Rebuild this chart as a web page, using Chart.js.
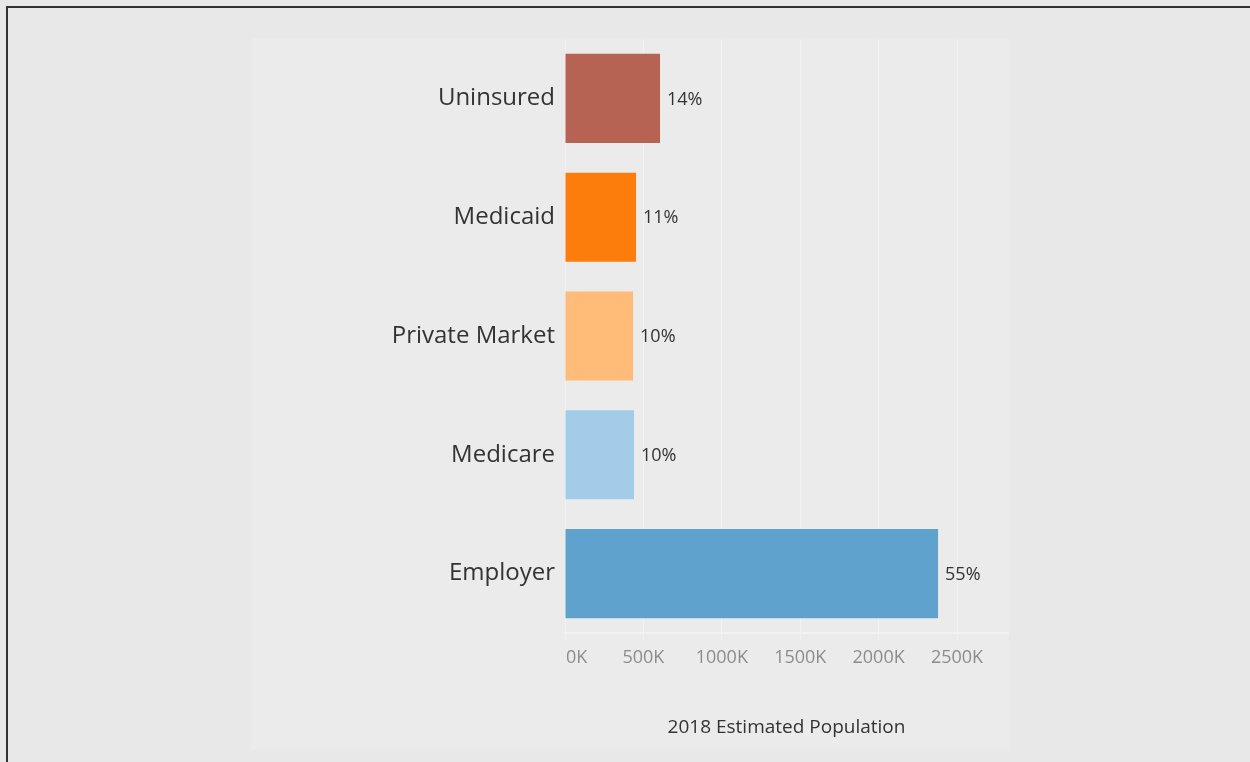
<!DOCTYPE html>
<html>
<head>
<meta charset="utf-8">
<script src="https://cdn.jsdelivr.net/npm/chart.js@4/dist/chart.umd.min.js"></script>
<style>
  html, body { margin: 0; padding: 0; width: 1250px; height: 762px; overflow: hidden; background: #e8e8e8; }
  #frame { position: absolute; left: 6px; top: 6px; width: 1250px; height: 762px; border-left: 2px solid #333; border-top: 2px solid #333; }
  #panel { position: absolute; left: 251px; top: 38px; width: 758px; height: 712px; background: #ebebeb; }
  #wrap { position: absolute; left: 0; top: 0; width: 1250px; height: 762px; }
</style>
</head>
<body>
<div id="frame"></div>
<div id="panel"></div>
<div id="wrap"><canvas id="chart"></canvas></div>
<script>
const categories = ['Uninsured', 'Medicaid', 'Private Market', 'Medicare', 'Employer'];
const population = [606000, 453000, 434000, 440000, 2379000];
const shareLabels = ['14%', '11%', '10%', '10%', '55%'];
const barColors = ['#b66353', '#fc7d0b', '#ffbc79', '#a3cce9', '#5fa2ce'];
const tickValues = [0, 500000, 1000000, 1500000, 2000000, 2500000];

const fontFamily = '"Open Sans", "Noto Sans", sans-serif';

const valueLabels = {
  id: 'valueLabels',
  afterDatasetsDraw(chart) {
    const ctx = chart.ctx;
    const meta = chart.getDatasetMeta(0);
    ctx.save();
    ctx.font = '18px ' + fontFamily;
    ctx.fillStyle = '#333333';
    ctx.textAlign = 'left';
    ctx.textBaseline = 'middle';
    meta.data.forEach((bar, i) => {
      ctx.fillText(shareLabels[i], bar.x + 7, bar.y + 1);
    });
    ctx.restore();
  }
};

const ctx = document.getElementById('chart').getContext('2d');
const chart = new Chart(ctx, {
  type: 'bar',
  data: {
    labels: categories,
    datasets: [{
      data: population,
      backgroundColor: barColors,
      borderWidth: 0,
      categoryPercentage: 0.75,
      barPercentage: 1.0
    }]
  },
  plugins: [valueLabels],
  options: {
    indexAxis: 'y',
    responsive: true,
    maintainAspectRatio: false,
    animation: false,
    layout: { padding: { left: 0, right: 242, top: 39, bottom: 0 } },
    plugins: {
      legend: { display: false },
      tooltip: { enabled: false }
    },
    scales: {
      x: {
        min: 0,
        max: 2825000,
        afterBuildTicks(scale) {
          scale.ticks = tickValues.map(v => ({ value: v }));
        },
        afterFit(scale) { scale.height = 129; },
        grid: {
          color: '#f2f2f2',
          lineWidth: 1,
          drawTicks: true,
          tickLength: 7
        },
        border: { display: true, color: '#f2f2f2', width: 2 },
        ticks: {
          padding: 7,
          color: '#8c8c8c',
          font: { family: fontFamily, size: 18 },
          maxRotation: 0,
          // first label sits right of the zero line, as in the original
          callback: v => (v === 0 ? '     ' : '') + (v / 1000) + 'K'
        },
        title: {
          display: true,
          text: '2018 Estimated Population',
          color: '#333333',
          font: { family: fontFamily, size: 19 },
          padding: { top: 0, bottom: 23 }
        }
      },
      y: {
        afterFit(scale) { scale.width = 565; },
        grid: { display: false, drawTicks: false },
        border: { display: false },
        ticks: {
          padding: 10,
          color: '#333333',
          font: { family: fontFamily, size: 24 }
        }
      }
    }
  }
});
</script>
</body>
</html>
